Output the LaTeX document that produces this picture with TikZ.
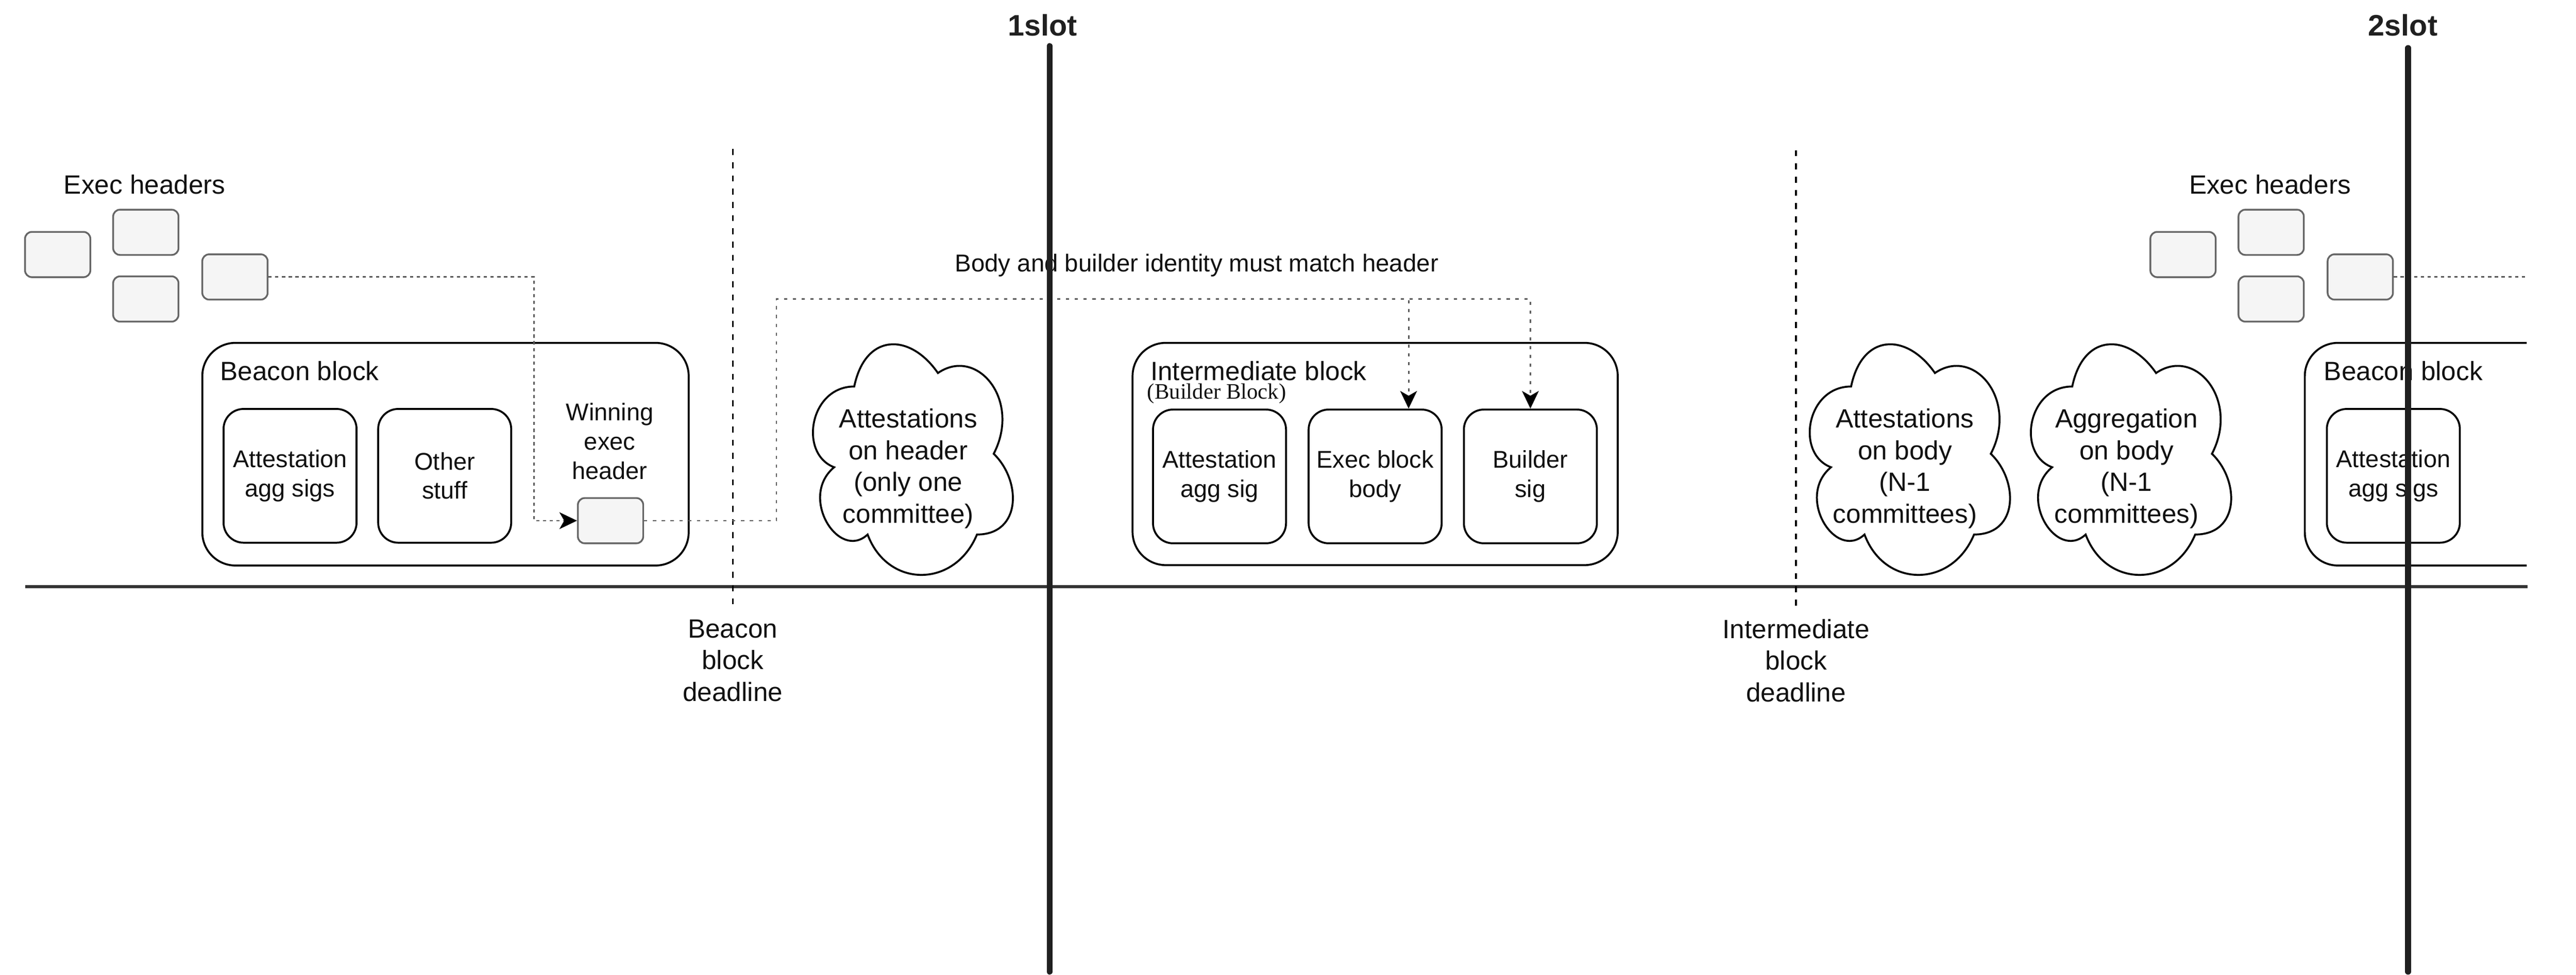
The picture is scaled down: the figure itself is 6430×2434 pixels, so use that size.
\documentclass[tikz,border=0pt]{standalone}
\usepackage{fontspec}
\setmainfont{Liberation Sans}
\newfontfamily\serifface{Liberation Serif}
\usetikzlibrary{arrows.meta,calc}

\definecolor{slotc}{HTML}{202020}
\definecolor{hdrfill}{HTML}{F5F5F5}
\definecolor{hdrdraw}{HTML}{666666}
\definecolor{tlc}{HTML}{333333}
\definecolor{connc}{HTML}{5A5A5A}
\definecolor{txt}{HTML}{111111}

\tikzset{
  every node/.style={text=txt},
  txtfont/.style={font=\fontsize{16.5pt}{19.75pt}\selectfont},
  smallfont/.style={font=\fontsize{15.1pt}{18.25pt}\selectfont},
  hdr/.style={draw=hdrdraw, fill=hdrfill, line width=1.1pt, rounded corners=4.25pt,
    minimum width=40.75pt, minimum height=28.25pt, inner sep=0pt},
  blockbox/.style={draw=black, line width=1.2pt, rounded corners=20.75pt, inner sep=0pt},
  inbox/.style={draw=black, fill=white, line width=1.2pt, rounded corners=12.5pt,
    minimum width=83pt, minimum height=83.5pt, inner sep=0pt, align=center, smallfont},
  lbl/.style={inner sep=0pt, align=center, txtfont},
  slotline/.style={draw=slotc, line width=3.75pt, line cap=round},
  slotlabel/.style={inner sep=0pt, font=\fontsize{18.5pt}{20pt}\selectfont\bfseries, text=slotc},
  deadlinestyle/.style={draw=black, line width=1.1pt, dash pattern=on 3.75pt off 4.5pt},
  connA/.style={draw=connc, line width=0.9pt, dash pattern=on 2pt off 2.2pt},
  connB/.style={draw=connc, line width=0.9pt, dash pattern=on 2pt off 3.5pt},
  arrowend/.style={-{Stealth[length=11pt,width=10.5pt,inset=3pt,color=black]}},
  cloudline/.style={draw=black, fill=white, line width=1.2pt},
  timeline/.style={draw=tlc, line width=1.8pt},
}

\begin{document}
\begin{tikzpicture}[x=0.25pt,y=-0.25pt]
\useasboundingbox (0,0) rectangle (6430,2434);

% time axis
\coordinate (t0) at (63,1465);
\coordinate (t1) at (6309,1465);
\draw[timeline] (t0) -- (t1);

% deadlines
\coordinate (d1a) at (1829,372);
\coordinate (d1b) at (1829,1522);
\coordinate (d2a) at (4483,375);
\coordinate (d2b) at (4483,1522);
\draw[deadlinestyle] (d1a) -- (d1b);
\draw[deadlinestyle] (d2a) -- (d2b);
\node[lbl] (bdl) at (1829,1649) {Beacon\\block\\deadline};
\node[lbl] (idl) at (4483,1649) {Intermediate\\block\\deadline};

% exec headers (left)
\node[lbl] (ehl) at (361,461) {Exec headers};
\node[hdr] (h1) at (144,635.5) {};
\node[hdr] (h2) at (364,580) {};
\node[hdr] (h3) at (364,746.5) {};
\node[hdr] (h4) at (586.5,691.5) {};

% beacon block
\node[blockbox, minimum width=303.5pt, minimum height=139pt] (bb) at (1112,1134) {};
\node[lbl, anchor=west] (bbt) at (549,926) {Beacon block};
\node[inbox] (batt) at (724,1188) {Attestation\\agg sigs};
\node[inbox] (both) at (1110,1188) {Other\\stuff};
\node[lbl, smallfont] (wint) at (1522,1102) {Winning\\exec\\header};
\node[hdr] (win) at (1524,1300) {};

% clouds
\begin{scope}[shift={(1993,797)},xscale=557,yscale=672]
\path[cloudline] (0.25,0.25) .. controls (0.05,0.25) and (0,0.5) .. (0.16,0.55)
  .. controls (0,0.66) and (0.18,0.9) .. (0.31,0.8)
  .. controls (0.4,1) and (0.7,1) .. (0.8,0.8)
  .. controls (1,0.8) and (1,0.6) .. (0.875,0.5)
  .. controls (1,0.3) and (0.8,0.1) .. (0.625,0.2)
  .. controls (0.5,0.05) and (0.3,0.05) .. (0.25,0.25) -- cycle;
\end{scope}
\node[lbl] (cl1) at (2267,1170) {Attestations\\on header\\(only one\\committee)};

\begin{scope}[shift={(4481,797)},xscale=558,yscale=672]
\path[cloudline] (0.25,0.25) .. controls (0.05,0.25) and (0,0.5) .. (0.16,0.55)
  .. controls (0,0.66) and (0.18,0.9) .. (0.31,0.8)
  .. controls (0.4,1) and (0.7,1) .. (0.8,0.8)
  .. controls (1,0.8) and (1,0.6) .. (0.875,0.5)
  .. controls (1,0.3) and (0.8,0.1) .. (0.625,0.2)
  .. controls (0.5,0.05) and (0.3,0.05) .. (0.25,0.25) -- cycle;
\end{scope}
\node[lbl] (cl2) at (4755,1170) {Attestations\\on body\\(N-1\\committees)};

\begin{scope}[shift={(5033,797)},xscale=558,yscale=672]
\path[cloudline] (0.25,0.25) .. controls (0.05,0.25) and (0,0.5) .. (0.16,0.55)
  .. controls (0,0.66) and (0.18,0.9) .. (0.31,0.8)
  .. controls (0.4,1) and (0.7,1) .. (0.8,0.8)
  .. controls (1,0.8) and (1,0.6) .. (0.875,0.5)
  .. controls (1,0.3) and (0.8,0.1) .. (0.625,0.2)
  .. controls (0.5,0.05) and (0.3,0.05) .. (0.25,0.25) -- cycle;
\end{scope}
\node[lbl] (cl3) at (5308,1170) {Aggregation\\on body\\(N-1\\committees)};

% intermediate block
\node[blockbox, minimum width=302.75pt, minimum height=138.75pt] (ib) at (3432.5,1133.5) {};
\node[lbl, anchor=west] (ibt) at (2871,926) {Intermediate block};
\node[inner sep=0pt, anchor=west, font=\serifface\fontsize{13.75pt}{15pt}\selectfont] (ibs) at (2863,983) {(Builder Block)};
\node[inbox] (iatt) at (3044,1189.5) {Attestation\\agg sig};
\node[inbox] (iexec) at (3432.5,1189.5) {Exec block\\body};
\node[inbox] (isig) at (3820,1189.5) {Builder\\sig};

% exec headers (right)
\node[lbl] (ehr) at (5666,461) {Exec headers};
\node[hdr] (h5) at (5449,635.5) {};
\node[hdr] (h6) at (5669,580) {};
\node[hdr] (h7) at (5669,746.5) {};
\node[hdr] (h8) at (5891.5,691.5) {};

% next beacon block (cut by the page edge)
\begin{scope}
\clip (0,0) rectangle (6307,2434);
\node[blockbox, minimum width=303.5pt, minimum height=139pt] (bb2) at (6360,1134) {};
\node[lbl, anchor=west] (bbt2) at (5800,926) {Beacon block};
\node[inbox] (batt2) at (5974,1188) {Attestation\\agg sigs};
\coordinate (k9) at (6340,691.5);
\draw[connA] (h8.east) -- (k9);
\end{scope}

% connectors
\coordinate (k1) at (1333,691.5);
\draw[connA, arrowend] (h4.east) -- (k1) |- (win.west);
\coordinate (k2) at (1938,747);
\coordinate (k3) at (3516,747);
\draw[connB, arrowend] (win.east) -| (k2) -- (k3) -- (k3 |- iexec.north);
\draw[connB, arrowend] (win.east) -| (k2) -- (k2 -| isig.north) -- (isig.north);
\node[inner sep=0pt, font=\fontsize{15.25pt}{18pt}\selectfont] (lab) at (2987,662) {Body and builder identity must match header};

% slot markers
\coordinate (s1a) at (2620,115);
\coordinate (s1b) at (2620,2426);
\coordinate (s2a) at (6011,120);
\coordinate (s2b) at (6011,2426);
\draw[slotline] (s1a) -- (s1b);
\draw[slotline] (s2a) -- (s2b);
\node[slotlabel, anchor=base] (s1) at (2602,90) {1slot};
\node[slotlabel, anchor=base] (s2) at (5998,90) {2slot};
\end{tikzpicture}
\end{document}
